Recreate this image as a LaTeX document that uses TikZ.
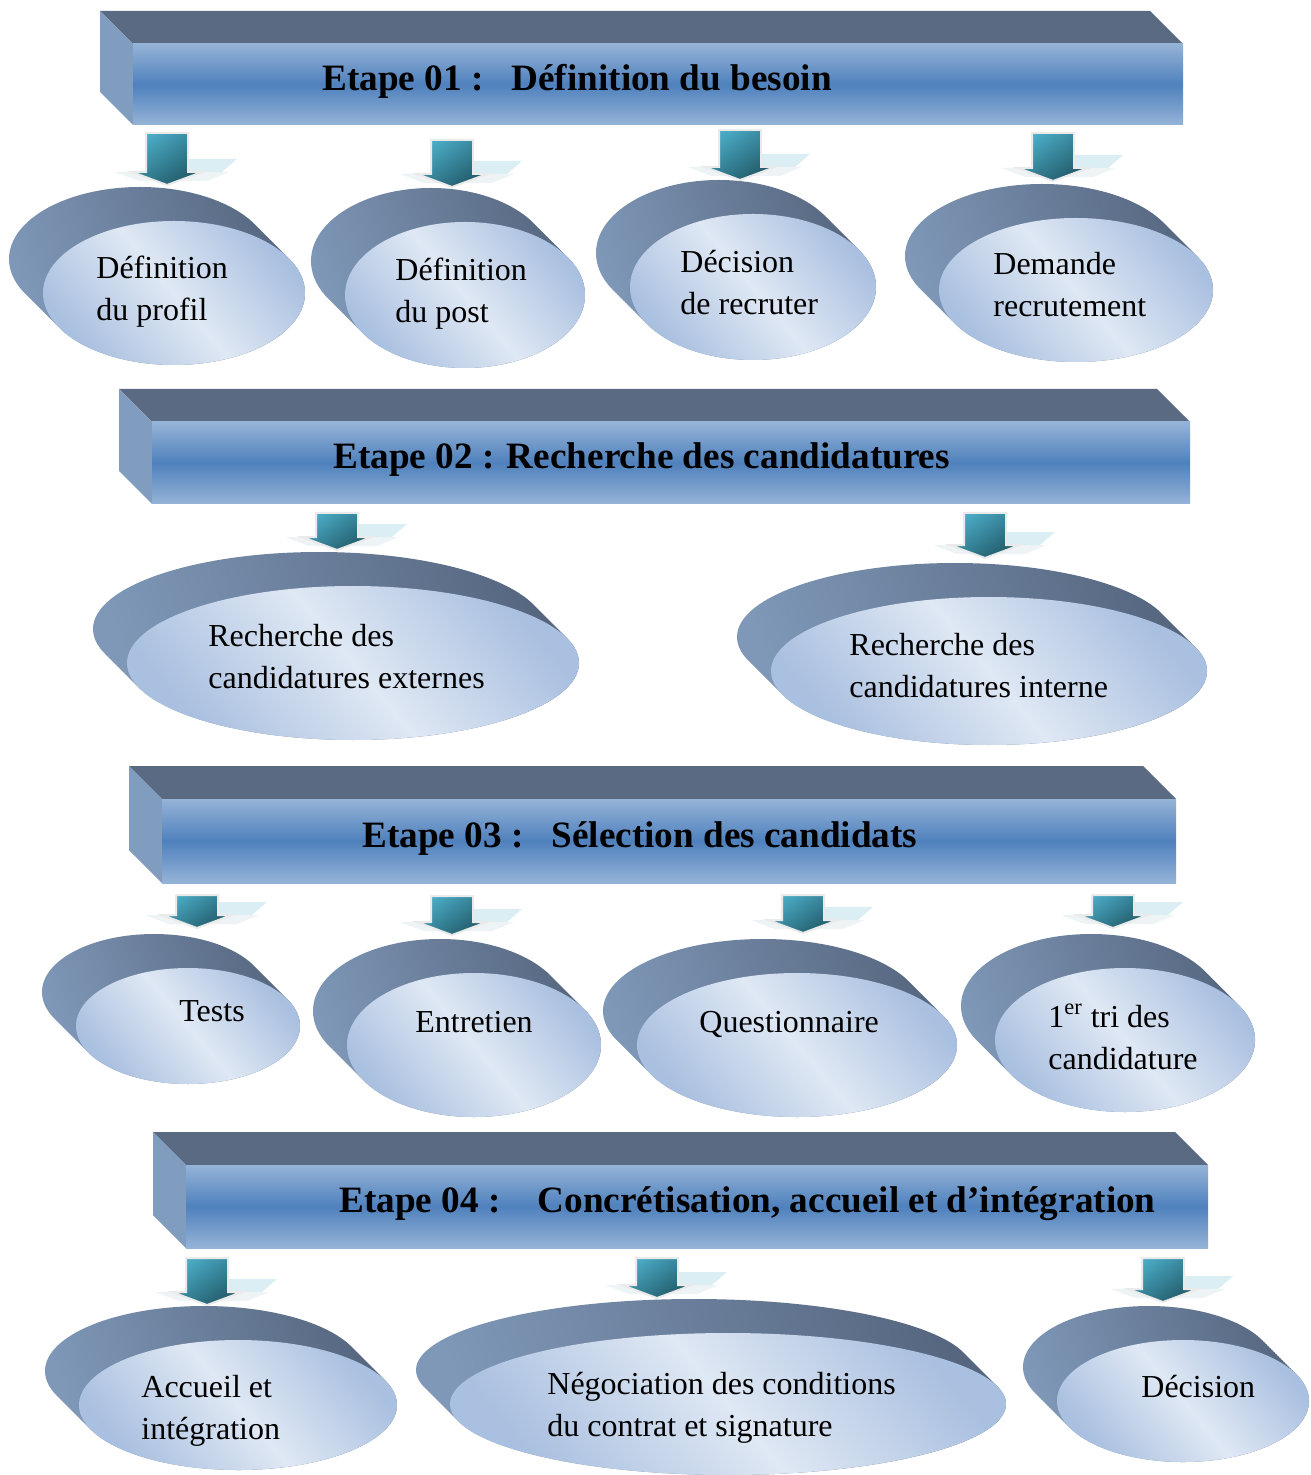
\documentclass[tikz,border=0pt]{standalone}
\usepackage{fontspec}
\setmainfont{Liberation Serif}
\definecolor{bantopc}{HTML}{5B6A83}
\definecolor{bansidec}{HTML}{809CBE}
\definecolor{banlight}{HTML}{95B3D7}
\definecolor{bandark}{HTML}{4F81BD}
\definecolor{extl}{HTML}{7F98B8}
\definecolor{extr}{HTML}{56667F}
\definecolor{facein}{HTML}{DFE8F4}
\definecolor{faceout}{HTML}{AAC0E0}
\definecolor{arra}{HTML}{4BACC6}
\definecolor{arrb}{HTML}{215968}
\definecolor{arrline}{HTML}{EAEAEA}
\definecolor{arrsh}{HTML}{DAEEF3}
\definecolor{arrshb}{HTML}{EEF3F5}
\tikzset{
  titlestyle/.style={font=\bfseries\fontsize{18.6}{22}\selectfont, inner sep=0pt, anchor=base west},
  ovaltext/.style={font=\fontsize{16}{21}\selectfont, align=left, inner sep=0pt, anchor=base west},
  arrfill/.style={top color=arra, bottom color=arrb, shading angle=35},
  facefill/.style={top color=faceout, bottom color=faceout, middle color=facein, shading angle=-50},
}
\newcommand\mybanner[7]{%
  \fill[bantopc] (#2,#3) -- (#4,#3) -- ({#4+33},{#3+33}) -- ({#2+33},{#3+33}) -- cycle;
  \fill[bansidec] (#2,#3) -- ({#2+33},{#3+33}) -- ({#2+33},{#3+33+#5}) -- (#2,{#3+#5}) -- cycle;
  \shade[top color=banlight, bottom color=banlight, middle color=bandark] ({#2+33},{#3+33}) rectangle ({#4+33},{#3+33+#5});
  \node[titlestyle] (#1) at (#6,{#3+33+#5/2+6}) {#7};
}
\newcommand\myoval[5]{%
  \shade[left color=extl, right color=extr, shading angle=110]
    \foreach \i in {0,...,17} {({#2-34+2*\i},{#3-34+2*\i}) ellipse [x radius=#4, y radius=#5]};
  \shade[facefill] (#2,#3) ellipse [x radius=#4, y radius=#5];
  \coordinate (#1) at (#2,#3);
}
\newcommand\myarrow[3]{%
  \fill[arrsh] ({#1+22},{#3-26}) -- ({#1+70},{#3-26}) -- ({#1+55},{#3-13}) -- ({#1+22},{#3-13}) -- cycle;
  \fill[arrshb] ({#1-52},{#3-13}) -- ({#1+62},{#3-13}) -- ({#1+40},{#3-4}) -- ({#1-28},{#3-4}) -- cycle;
  \shadedraw[arrfill, draw=arrline, line width=1pt] ({#1-21},#2) -- ({#1+21},#2) -- ({#1+21},{#3-13}) -- ({#1+35},{#3-13}) -- (#1,#3) -- ({#1-35},{#3-13}) -- ({#1-21},{#3-13}) -- cycle;
}
\begin{document}
\begin{tikzpicture}[x=0.5pt, y=-0.5pt]
\useasboundingbox (0,0) rectangle (1310,1475);
% banners
\mybanner{b1}{100}{11}{1150}{81}{322}{Etape 01 :\ \ \ Définition du besoin}
\mybanner{b2}{119}{389}{1157}{82}{333}{Etape 02 : Recherche des candidatures}
\mybanner{b3}{129}{766}{1143}{84}{362}{Etape 03 :\ \ \ Sélection des candidats}
\mybanner{b4}{153}{1132}{1175}{83}{339}{Etape 04 :\ \ \ \ Concrétisation, accueil et d’intégration}
% ovals
\myoval{o1}{174}{293}{131}{72}
\myoval{o2}{465}{295}{120}{73}
\myoval{o3}{753}{287}{123}{73}
\myoval{o4}{1076}{290}{137}{72}
\myoval{o5}{353}{663}{226}{77}
\myoval{o6}{989}{671}{218}{74}
\myoval{o7}{188}{1026}{112}{58}
\myoval{o8}{474}{1045}{127}{72}
\myoval{o9}{797}{1045}{160}{72}
\myoval{o10}{1125}{1040}{130}{72}
\myoval{o11}{238}{1405}{159}{65}
\myoval{o12}{728}{1404}{278}{71}
\myoval{o13}{1183}{1401}{126}{61}
% texts (two-line nodes: base is the last line)
\node[ovaltext] (t1) at (96,321) {Définition\\du profil};
\node[ovaltext] (t2) at (395,323) {Définition\\du post};
\node[ovaltext] (t3) at (680,315) {Décision\\de recruter};
\node[ovaltext] (t4) at (993,317) {Demande\\recrutement};
\node[ovaltext] (t5) at (208,688) {Recherche des\\candidatures externes};
\node[ovaltext] (t6) at (849,697) {Recherche des\\candidatures interne};
\node[ovaltext] (t7) at (179,1021) {Tests};
\node[ovaltext] (t8) at (415,1032) {Entretien};
\node[ovaltext] (t9) at (699,1032) {Questionnaire};
\node[ovaltext] (t10) at (1048,1069) {1\textsuperscript{er} tri des\\candidature};
\node[ovaltext] (t11) at (141,1439) {Accueil et\\intégration};
\node[ovaltext] (t12) at (547,1436) {Négociation des conditions\\du contrat et signature};
\node[ovaltext] (t13) at (1141,1397) {Décision};
% arrows
\myarrow{167}{133}{185}
\myarrow{452}{140}{187}
\myarrow{740}{130}{180}
\myarrow{1053}{133}{181}
\myarrow{337}{513}{550}
\myarrow{985}{513}{558}
\myarrow{197}{895}{928}
\myarrow{452}{896}{935}
\myarrow{803}{895}{933}
\myarrow{1113}{895}{928}
\myarrow{207}{1258}{1305}
\myarrow{657}{1258}{1298}
\myarrow{1163}{1258}{1302}
\end{tikzpicture}
\end{document}
